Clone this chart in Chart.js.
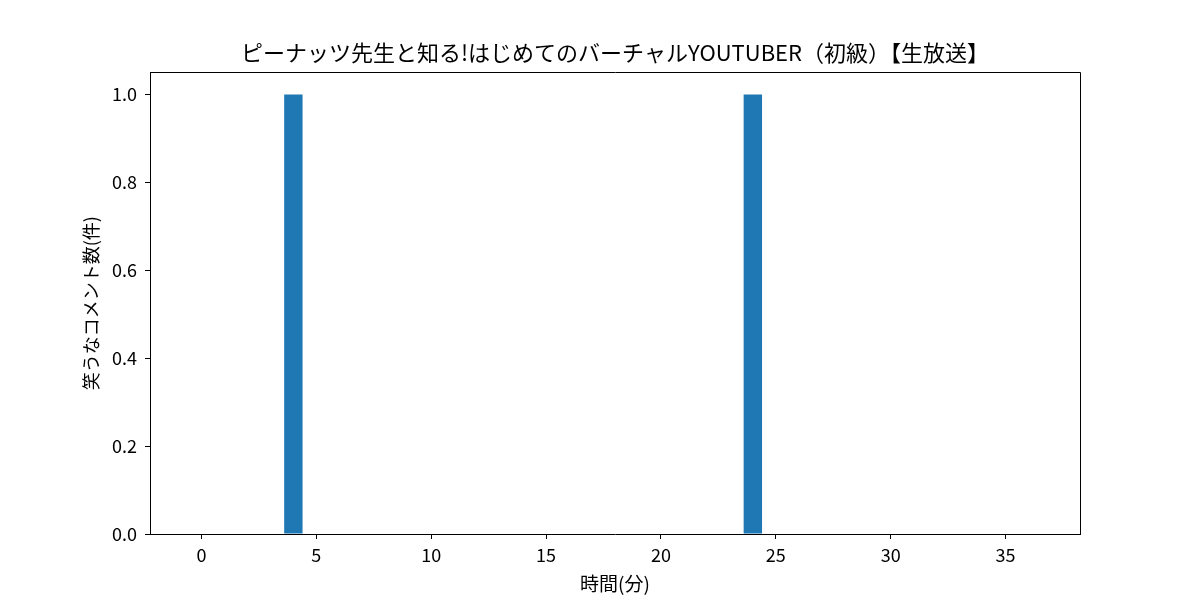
<!DOCTYPE html>
<html>
<head>
<meta charset="utf-8">
<script src="https://cdn.jsdelivr.net/npm/chart.js@4/dist/chart.umd.min.js"></script>
<style>
html,body{margin:0;padding:0;background:#fff;}
canvas{display:block;}
</style>
</head>
<body>
<canvas id="c" width="1200" height="600"></canvas>
<script>
const TITLE = 'ピーナッツ先生と知る!はじめてのバーチャルYOUTUBER（初級）【生放送】';
const X_LABEL = '時間(分)';
const Y_LABEL = '笑うなコメント数(件)';
const minutes = [0,1,2,3,4,5,6,7,8,9,10,11,12,13,14,15,16,17,18,19,20,21,22,23,24,25,26,27,28,29,30,31,32,33,34,35,36];
const counts  = [0,0,0,0,1,0,0,0,0,0,0,0,0,0,0,0,0,0,0,0,0,0,0,0,1,0,0,0,0,0,0,0,0,0,0,0,0];
const xTicks = [0,5,10,15,20,25,30,35];
const yTicks = [0,0.2,0.4,0.6,0.8,1.0];

const FONT = "'Noto Sans CJK JP', 'Noto Sans', sans-serif";

const frame = {
  id: 'frame',
  afterDatasetsDraw(chart) {
    const {ctx, chartArea: a} = chart;
    ctx.save();
    ctx.strokeStyle = '#000';
    ctx.lineWidth = 1;
    ctx.beginPath();
    ctx.moveTo(Math.round(a.left) + 0.5, Math.round(a.top) + 0.5);
    ctx.lineTo(Math.round(a.right) + 0.5, Math.round(a.top) + 0.5);
    ctx.lineTo(Math.round(a.right) + 0.5, Math.round(a.bottom) + 0.5);
    ctx.stroke();
    ctx.restore();
  }
};

new Chart(document.getElementById('c'), {
  type: 'bar',
  data: {
    datasets: [{
      data: minutes.map((m, i) => ({x: m, y: counts[i]})),
      backgroundColor: '#1f77b4',
      borderWidth: 0,
      barPercentage: 0.8,
      categoryPercentage: 1.0
    }]
  },
  options: {
    responsive: false,
    animation: false,
    devicePixelRatio: 1,
    layout: {padding: {left: 30, right: 0, top: 0, bottom: 0}},
    plugins: {
      legend: {display: false},
      tooltip: {enabled: false},
      title: {
        display: true,
        text: TITLE,
        color: '#000',
        font: {family: FONT, size: 22, weight: 'normal'},
        padding: {top: 39, bottom: 7}
      }
    },
    scales: {
      x: {
        type: 'linear',
        offset: false,
        min: -2.24,
        max: 38.24,
        afterFit: s => { s.height = 66; },
        afterBuildTicks: s => { s.ticks = xTicks.map(v => ({value: v})); },
        grid: {display: true, drawOnChartArea: false, drawTicks: true, tickLength: 5, color: '#000', offset: false},
        border: {display: true, color: '#000', width: 1},
        ticks: {color: '#000', font: {family: FONT, size: 18}, padding: 5, maxRotation: 0,
                callback: v => String(v)},
        title: {display: true, text: X_LABEL, color: '#000', font: {family: FONT, size: 19}, padding: {top: 0, bottom: 5}}
      },
      y: {
        type: 'linear',
        min: 0,
        max: 1.05,
        afterFit: s => { s.width = 120; },
        afterBuildTicks: s => { s.ticks = yTicks.map(v => ({value: v})); },
        grid: {display: true, drawOnChartArea: false, drawTicks: true, tickLength: 5, color: '#000'},
        border: {display: true, color: '#000', width: 1},
        ticks: {color: '#000', font: {family: FONT, size: 18}, padding: 8,
                callback: v => Number(v).toFixed(1)},
        title: {display: true, text: Y_LABEL, color: '#000', font: {family: FONT, size: 18}, padding: {top: 50, bottom: 0}}
      },
      yr: {
        type: 'linear',
        position: 'right',
        display: true,
        min: 0,
        max: 1,
        afterFit: s => { s.width = 120; },
        grid: {display: false},
        border: {display: false},
        ticks: {display: false}
      }
    }
  },
  plugins: [frame]
});
</script>
</body>
</html>
